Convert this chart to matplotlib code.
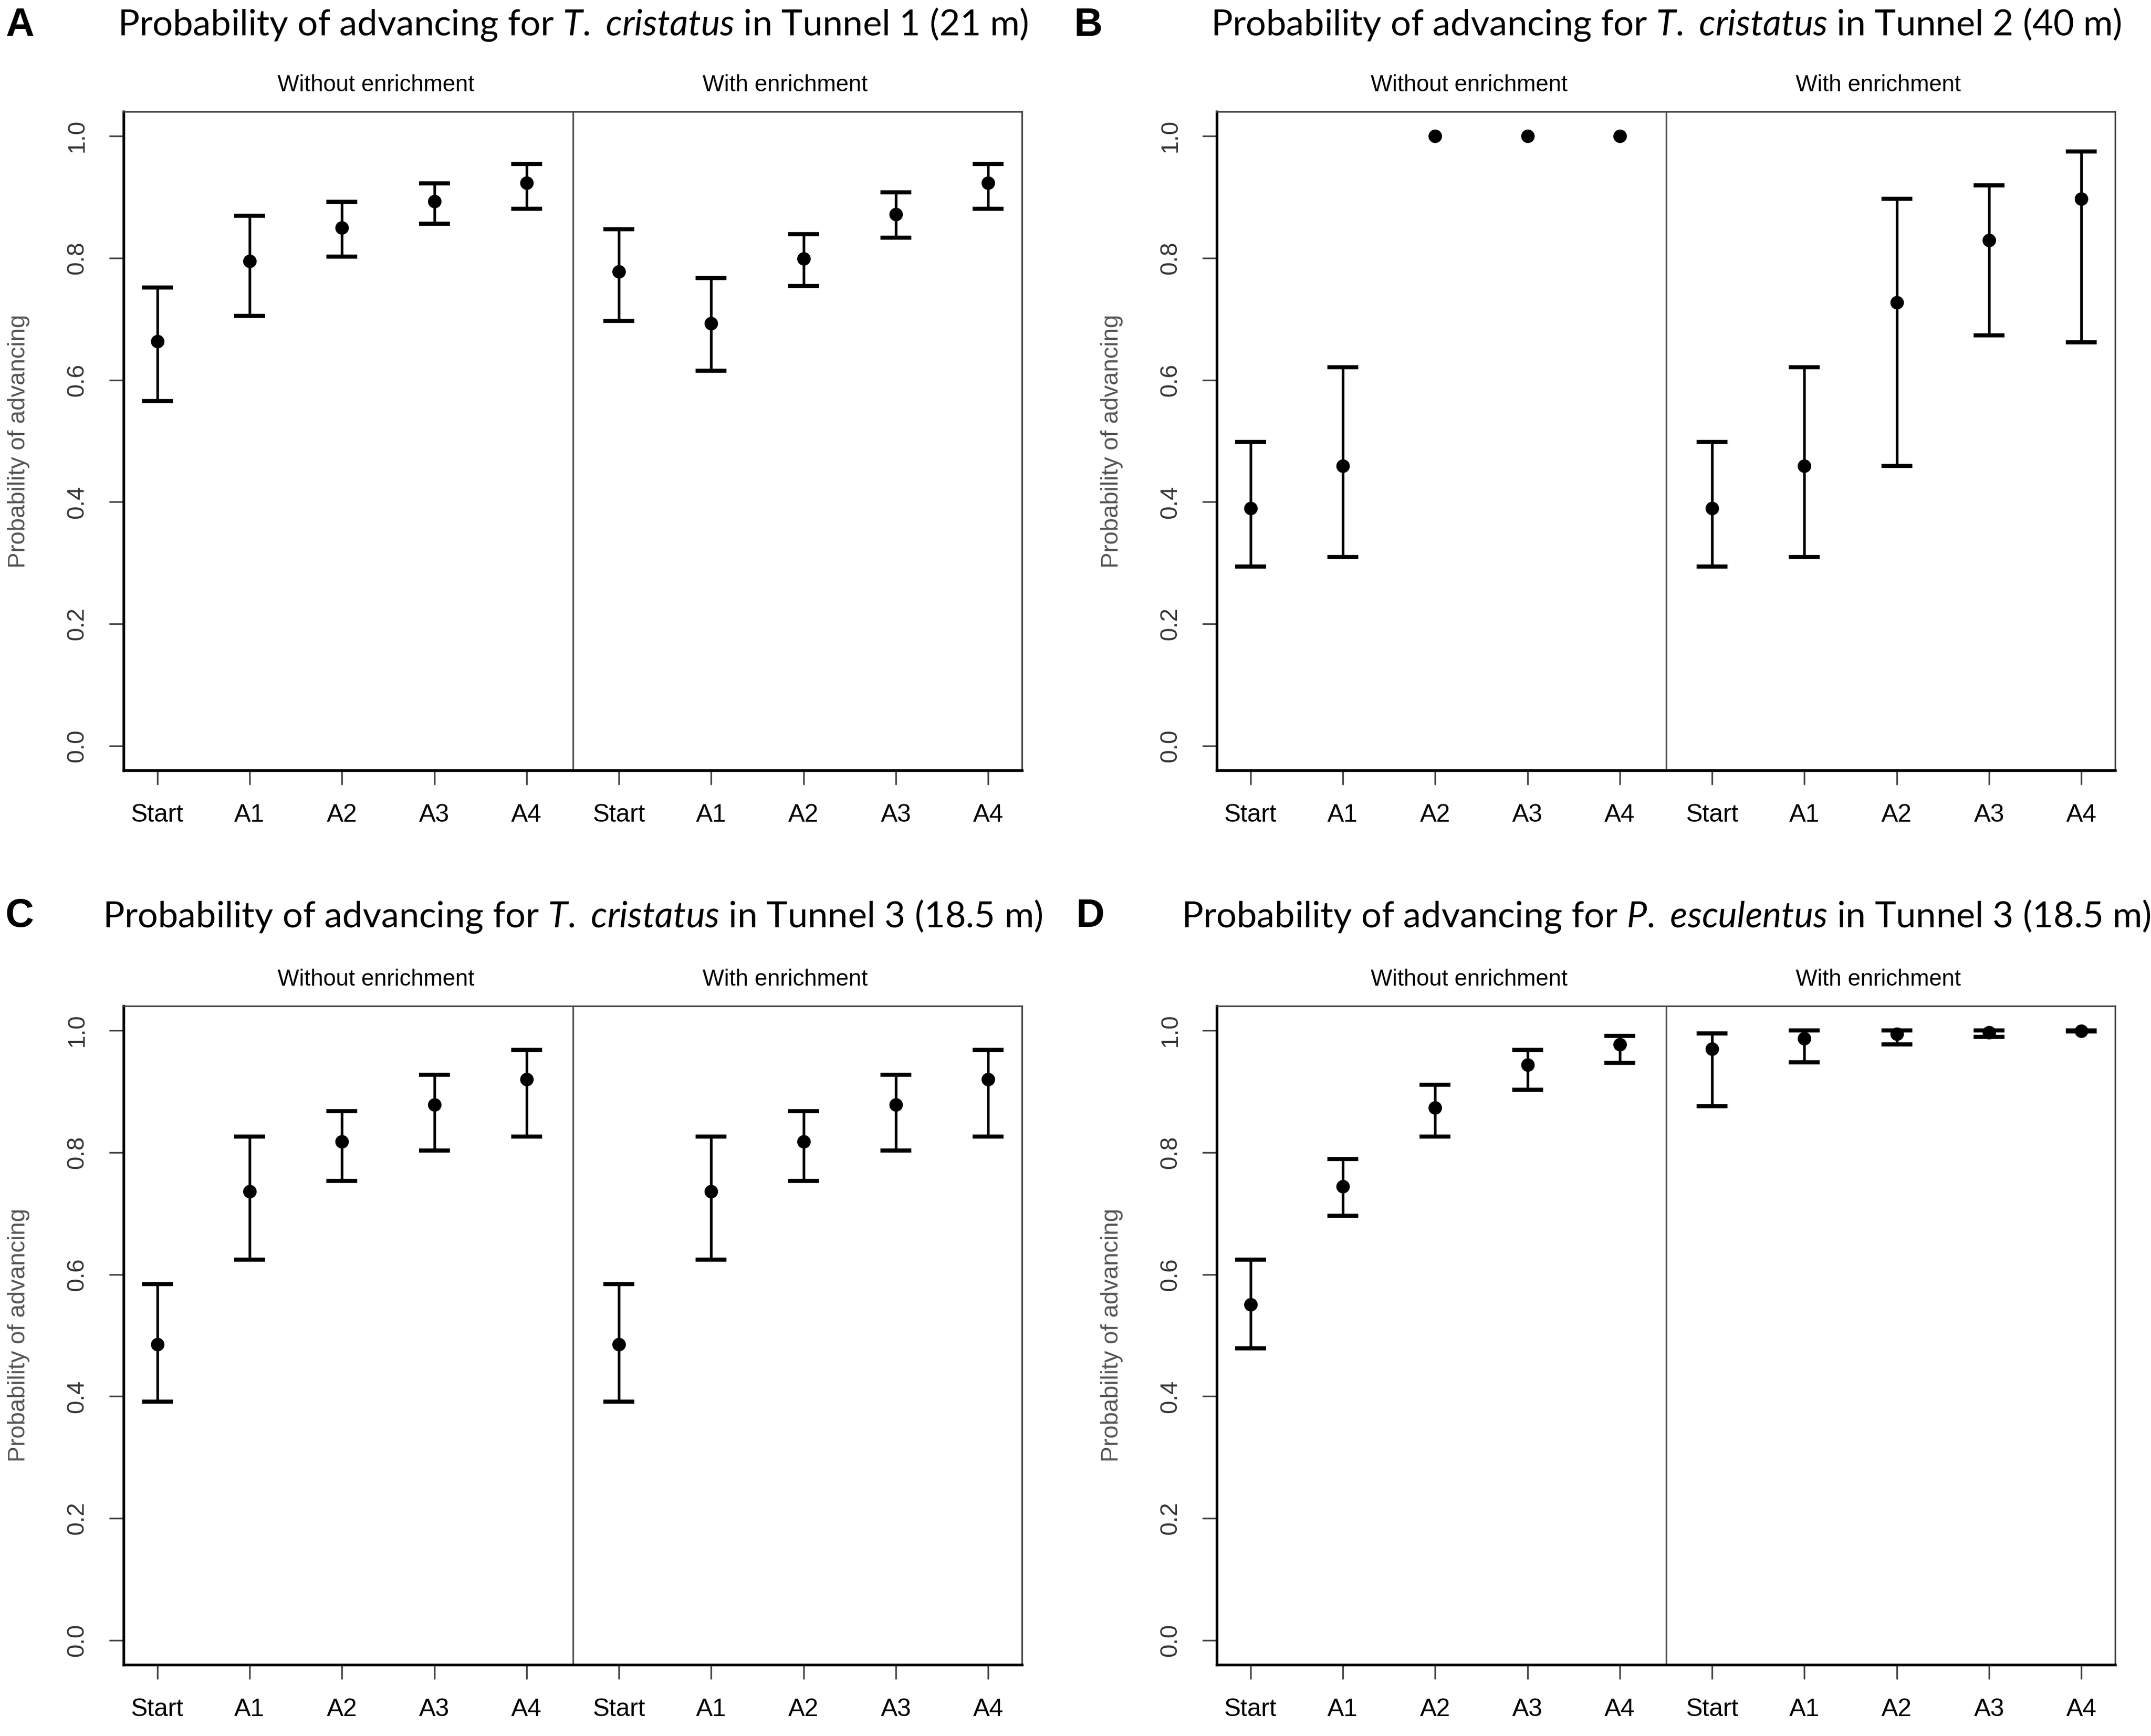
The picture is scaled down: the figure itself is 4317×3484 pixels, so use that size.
import numpy as np
import matplotlib.pyplot as plt

plt.rcParams['font.family'] = ['Liberation Sans', 'DejaVu Sans']
plt.rcParams['mathtext.fontset'] = 'custom'
plt.rcParams['mathtext.rm'] = 'Lato'
plt.rcParams['mathtext.it'] = 'Lato:italic'

# x axis: stages, repeated for "without" and "with" enrichment
stages = ["Start", "A1", "A2", "A3", "A4"]
tick_labels = stages + stages
group_labels = ["Without enrichment", "With enrichment"]

# A: T. cristatus, Tunnel 1
a_est = [0.663, 0.795, 0.850, 0.893, 0.923, 0.778, 0.693, 0.799, 0.872, 0.923]
a_low = [0.565, 0.705, 0.802, 0.856, 0.881, 0.697, 0.615, 0.754, 0.833, 0.881]
a_high = [0.752, 0.869, 0.892, 0.922, 0.954, 0.847, 0.767, 0.839, 0.908, 0.954]

# B: T. cristatus, Tunnel 2 (no interval for A2-A4 without enrichment)
b_est = [0.390, 0.459, 1.0, 1.0, 1.0, 0.390, 0.459, 0.727, 0.829, 0.897]
b_low = [0.294, 0.310, np.nan, np.nan, np.nan, 0.294, 0.310, 0.459, 0.673, 0.662]
b_high = [0.498, 0.621, np.nan, np.nan, np.nan, 0.498, 0.621, 0.897, 0.919, 0.975]

# C: T. cristatus, Tunnel 3
c_est = [0.485, 0.736, 0.818, 0.878, 0.920, 0.485, 0.736, 0.818, 0.878, 0.920]
c_low = [0.391, 0.624, 0.753, 0.803, 0.826, 0.391, 0.624, 0.753, 0.803, 0.826]
c_high = [0.584, 0.826, 0.868, 0.927, 0.968, 0.584, 0.826, 0.868, 0.927, 0.968]

# D: P. esculentus, Tunnel 3
d_est = [0.551, 0.744, 0.873, 0.944, 0.977, 0.970, 0.987, 0.994, 0.997, 0.999]
d_low = [0.479, 0.696, 0.826, 0.903, 0.947, 0.876, 0.948, 0.977, 0.989, 0.998]
d_high = [0.624, 0.789, 0.911, 0.968, 0.991, 0.995, 1.0, 1.0, 1.0, 1.0]

panels = [
    ("A", "Probability of advancing for $\\mathit{T.}$ $\\mathit{cristatus}$ in Tunnel 1 (21 m)", a_est, a_low, a_high),
    ("B", "Probability of advancing for $\\mathit{T.}$ $\\mathit{cristatus}$ in Tunnel 2 (40 m)", b_est, b_low, b_high),
    ("C", "Probability of advancing for $\\mathit{T.}$ $\\mathit{cristatus}$ in Tunnel 3 (18.5 m)", c_est, c_low, c_high),
    ("D", "Probability of advancing for $\\mathit{P.}$ $\\mathit{esculentus}$ in Tunnel 3 (18.5 m)", d_est, d_low, d_high),
]

W, H = 4317, 3484
fig = plt.figure(figsize=(W / 300, H / 300), dpi=300)

# axes boxes in pixels: left, top, width, height
boxes = [(248, 224), (2442, 224), (248, 2019), (2442, 2019)]
ax_w, ax_h = 1803, 1322
letter_pos = [(11, 52), (2156, 52), (11, 1839), (2160, 1839)]
title_y = [50, 50, 1839, 1839]

x = np.arange(1, 11)

for i, (letter, title, est, low, high) in enumerate(panels):
    left, top = boxes[i]
    ax = fig.add_axes([left / W, 1 - (top + ax_h) / H, ax_w / W, ax_h / H])
    est = np.array(est)
    low = np.array(low)
    high = np.array(high)
    ok = ~np.isnan(low)

    ax.errorbar(x[ok], est[ok], yerr=[est[ok] - low[ok], high[ok] - est[ok]],
                fmt='none', ecolor='black', elinewidth=1.3, capsize=7.5, capthick=2.0)
    ax.plot(x, est, 'o', color='black', markersize=5.5)

    ax.axvline(5.5, color='#555555', lw=0.8)
    ax.set_xlim(0.635, 10.365)
    ax.set_ylim(-0.04, 1.04)
    ax.set_xticks(x)
    ax.set_xticklabels(tick_labels, fontsize=12)
    ax.set_yticks([0.0, 0.2, 0.4, 0.6, 0.8, 1.0])
    ax.set_yticklabels(["0.0", "0.2", "0.4", "0.6", "0.8", "1.0"], fontsize=11.5,
                       rotation=90, va='center', color='#333333')
    ax.tick_params(axis='both', length=7, width=0.8, color='#444444')
    ax.tick_params(axis='x', pad=9)
    ax.tick_params(axis='y', pad=10)

    for side in ['left', 'bottom']:
        ax.spines[side].set_linewidth(1.3)
        ax.spines[side].set_color('black')
    for side in ['top', 'right']:
        ax.spines[side].set_linewidth(0.8)
        ax.spines[side].set_color('#444444')

    ax.set_ylabel("Probability of advancing", fontsize=11.5, color='#555555')
    ax.yaxis.set_label_coords(-0.104, 0.5)

    ax.text(3.37, 1.04, group_labels[0], transform=ax.get_xaxis_transform(),
            ha='center', va='center', fontsize=11)
    ax.text(7.8, 1.04, group_labels[1], transform=ax.get_xaxis_transform(),
            ha='center', va='center', fontsize=11)

    fig.text((left + ax_w / 2) / W, 1 - title_y[i] / H, title, ha='center', va='center',
             fontsize=17.3, family='Lato')
    lx, ly = letter_pos[i]
    fig.text(lx / W, 1 - ly / H, letter, ha='left', va='center', fontsize=19,
             fontweight='bold')

fig.savefig("out.png", dpi=300, facecolor='white')
